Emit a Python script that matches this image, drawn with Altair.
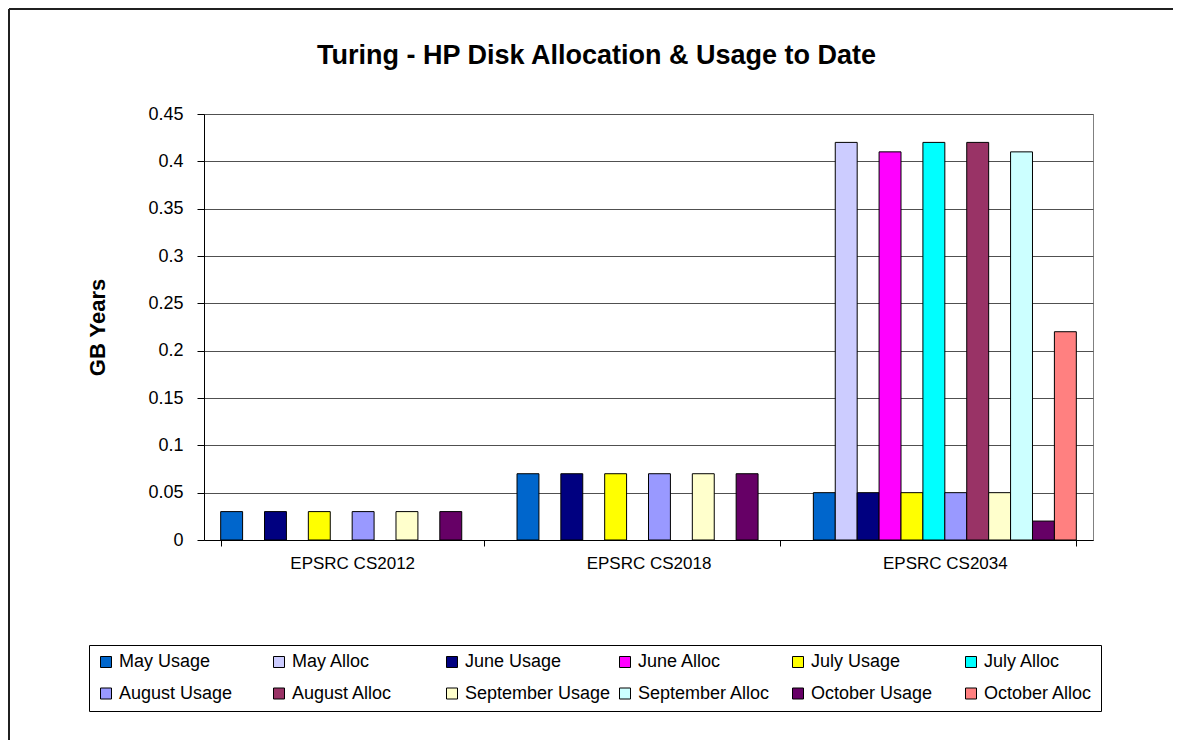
import altair as alt
import pandas as pd

categories = ["EPSRC CS2012", "EPSRC CS2018", "EPSRC CS2034"]
series = ["May Usage", "May Alloc", "June Usage", "June Alloc", "July Usage", "July Alloc",
          "August Usage", "August Alloc", "September Usage", "September Alloc",
          "October Usage", "October Alloc"]
colors = ["#0066CC", "#CCCCFF", "#000080", "#FF00FF", "#FFFF00", "#00FFFF",
          "#9999FF", "#993366", "#FFFFCC", "#CCFFFF", "#660066", "#FF8080"]

may_usage = [0.03, 0.07, 0.05]
may_alloc = [None, None, 0.42]
june_usage = [0.03, 0.07, 0.05]
june_alloc = [None, None, 0.41]
july_usage = [0.03, 0.07, 0.05]
july_alloc = [None, None, 0.42]
august_usage = [0.03, 0.07, 0.05]
august_alloc = [None, None, 0.42]
september_usage = [0.03, 0.07, 0.05]
september_alloc = [None, None, 0.41]
october_usage = [0.03, 0.07, 0.02]
october_alloc = [None, None, 0.22]

y_ticks = [0, 0.05, 0.1, 0.15, 0.2, 0.25, 0.3, 0.35, 0.4, 0.45]

values_by_series = [may_usage, may_alloc, june_usage, june_alloc, july_usage, july_alloc,
                    august_usage, august_alloc, september_usage, september_alloc,
                    october_usage, october_alloc]

rows = []
for s, vals in zip(series, values_by_series):
    for c, v in zip(categories, vals):
        rows.append({"category": c, "series": s, "value": v})
df = pd.DataFrame(rows)

FONT = "Liberation Sans"

bars = alt.Chart(df).mark_bar(stroke="black", strokeWidth=1).encode(
    x=alt.X("category:N", sort=categories,
            scale=alt.Scale(domain=categories, paddingInner=0.1126, paddingOuter=0.0563),
            axis=alt.Axis(title=None, labelFontSize=17, labelFont=FONT, labelColor="black",
                          labelAngle=0, domainColor="black", tickColor="black", ticks=True,
                          tickBand="extent", tickOffset=16.5, tickSize=6, labelPadding=9,
                          grid=False)),
    xOffset=alt.XOffset("series:N", sort=series,
                        scale=alt.Scale(domain=series, paddingInner=0, paddingOuter=0)),
    y=alt.Y("value:Q", scale=alt.Scale(domain=[0, 0.45], nice=False),
            axis=alt.Axis(title="GB Years", values=y_ticks, format="~g",
                          labelFontSize=18, labelFont=FONT, labelColor="black",
                          titleFontSize=22, titleFont=FONT, titleFontWeight="bold",
                          titleColor="black", titlePadding=38,
                          domainColor="black", tickColor="black", tickSize=7,
                          labelPadding=14, gridColor="#505050", gridWidth=1)),
    color=alt.Color("series:N", sort=series,
                    scale=alt.Scale(domain=series, range=colors),
                    legend=alt.Legend(title=None, orient="none", legendX=-115, legendY=531,
                                      direction="horizontal", columns=6,
                                      symbolType="square", symbolSize=121,
                                      symbolStrokeColor="black", symbolStrokeWidth=1,
                                      labelFontSize=18, labelFont=FONT, labelColor="black",
                                      gridAlign="all", columnPadding=5, rowPadding=13.5,
                                      padding=8, strokeColor="black", fillColor="white",
                                      labelLimit=400)),
)

frame_df = pd.DataFrame({"a": [0]})
frame_left = alt.Chart(frame_df).mark_rule(color="#202020", strokeWidth=2).encode(
    x=alt.value(-195), y=alt.value(-105), y2=alt.value(700))
frame_top = alt.Chart(frame_df).mark_rule(color="#202020", strokeWidth=2).encode(
    x=alt.value(-195), x2=alt.value(1000), y=alt.value(-105))

chart = alt.layer(bars, frame_left, frame_top).properties(
    width=889, height=426,
    title=alt.TitleParams("Turing - HP Disk Allocation & Usage to Date", fontSize=27,
                          font=FONT, fontWeight="bold", color="black", anchor="middle",
                          frame="group", dx=-52, offset=-89, baseline="bottom"),
    autosize=alt.AutoSizeParams(type="none"),
    padding={"left": 196, "top": 106, "right": 80, "bottom": 200},
    background="white",
).configure_view(stroke="#808080", strokeWidth=1)

chart.save("out.html", embed_options={"renderer": "svg", "actions": False})
